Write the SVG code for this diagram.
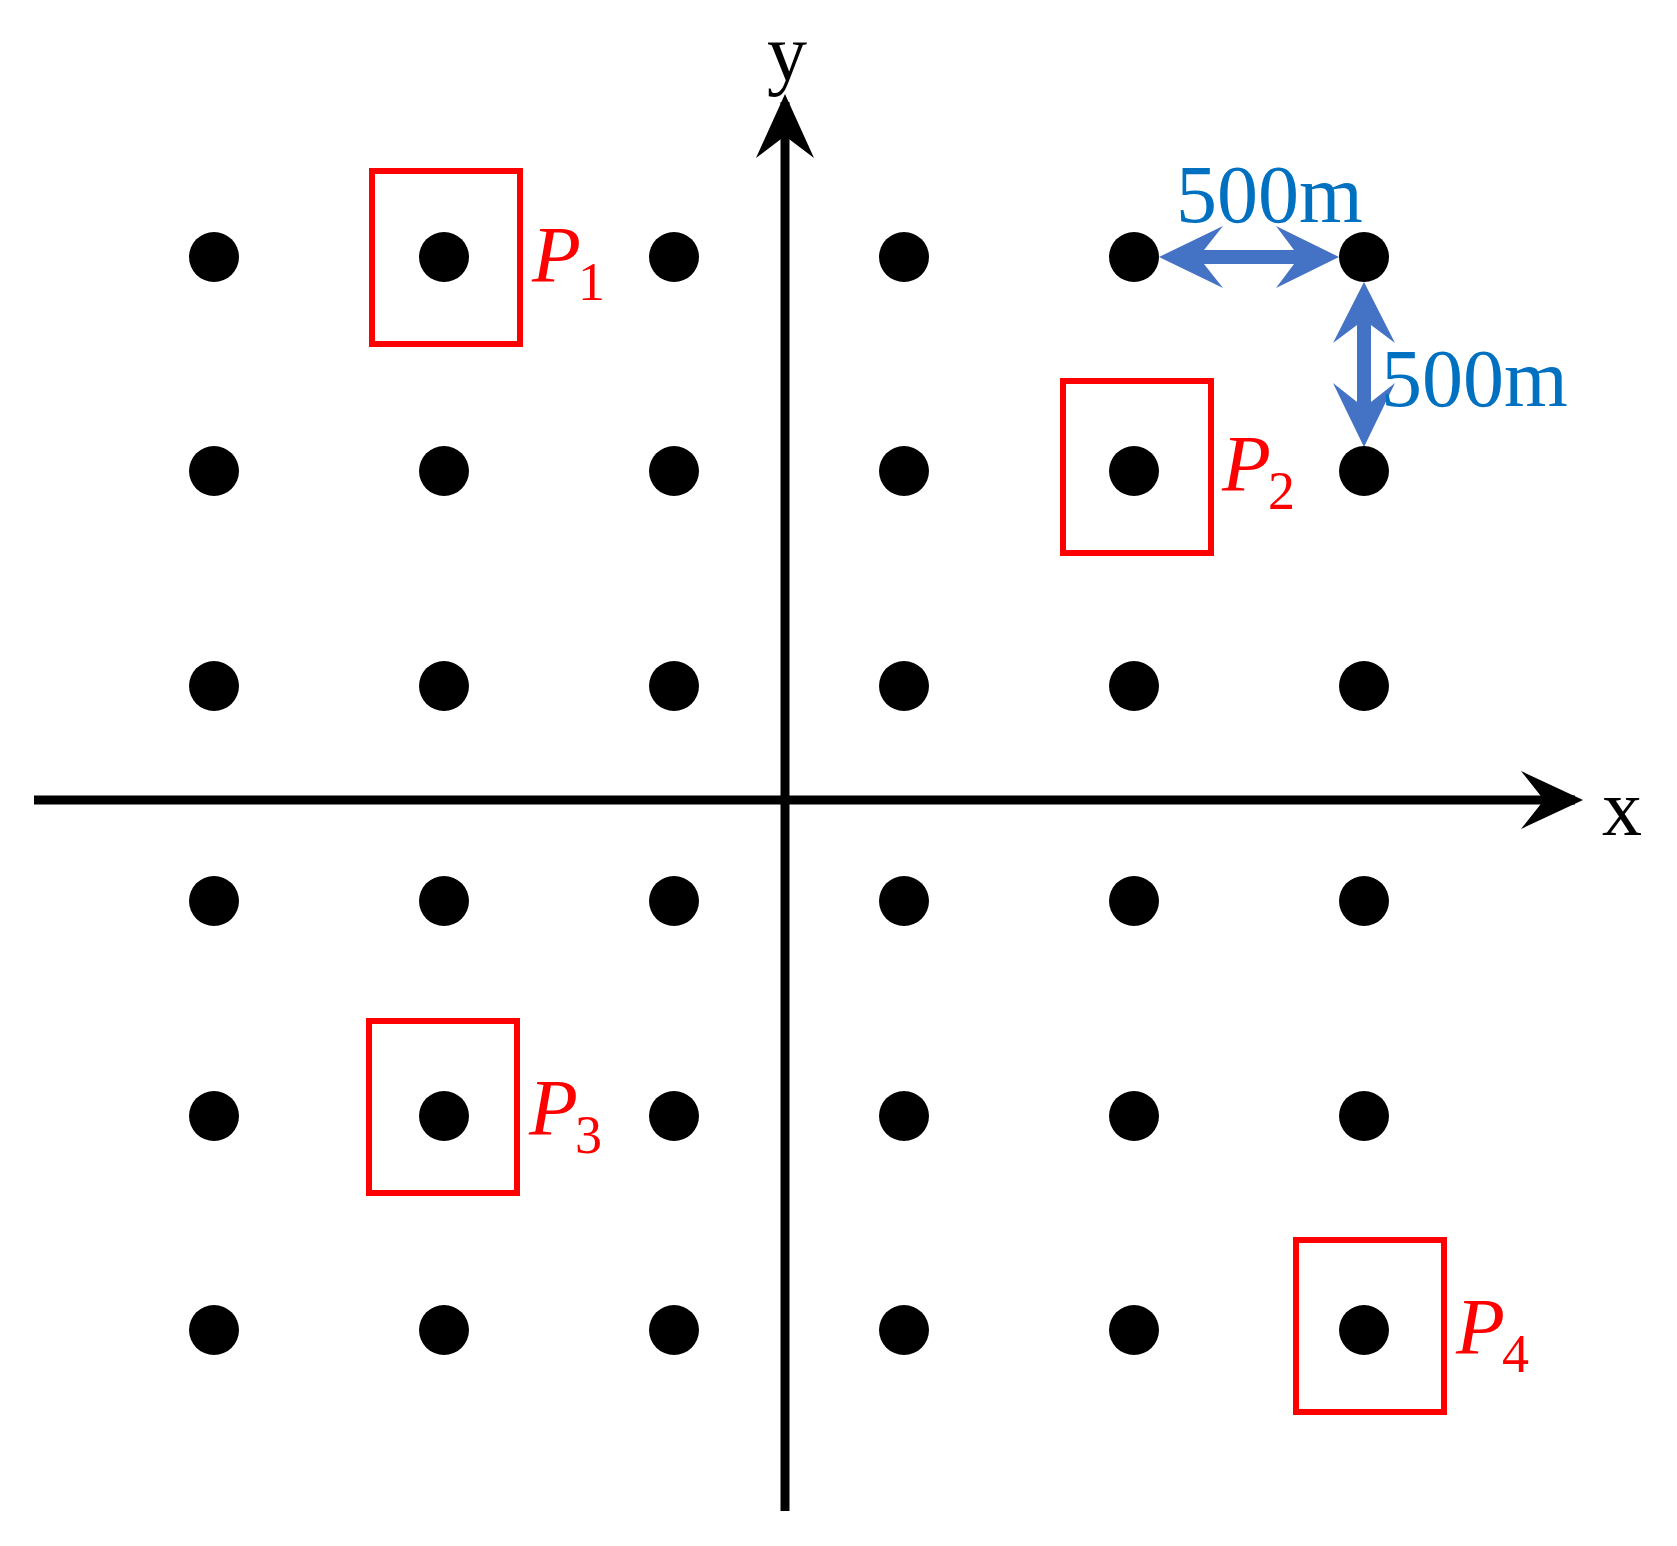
<svg xmlns="http://www.w3.org/2000/svg" width="1677" height="1546" viewBox="0 0 1677 1546">
<style>
.d{fill:#000}
.b{fill:none;stroke:#ff0000;stroke-width:6}
.p{font-family:"Liberation Serif",serif;font-style:italic;fill:#ff0000;font-size:80px}
.s{font-family:"Liberation Serif",serif;fill:#ff0000;font-size:54px}
.m{font-family:"Liberation Serif",serif;fill:#0070C0;font-size:82px}
.ax{font-family:"Liberation Serif",serif;fill:#000;font-size:80px}
</style>
<rect width="1677" height="1546" fill="#fff"/>
<g id="connectors">
<line x1="34" y1="800" x2="1575" y2="800" stroke="#000" stroke-width="9"/>
<polygon points="1583,800 1521,771 1544,800 1521,829" fill="#000"/>
<line x1="785" y1="1511" x2="785" y2="102" stroke="#000" stroke-width="9"/>
<polygon points="785,94 756,158 785,136 814,158" fill="#000"/>
<polygon fill="#4472C4" points="1159,257 1223,226 1204,250 1294,250 1276,226 1339,257 1276,288 1294,264 1204,264 1223,288"/>
<polygon fill="#4472C4" points="1364,282 1395,343 1371,325 1371,402 1395,383 1364,447 1333,383 1357,402 1357,325 1333,343"/>
</g>
<g id="dots">
<circle class="d" cx="214" cy="257" r="25"/><circle class="d" cx="444" cy="257" r="25"/><circle class="d" cx="674" cy="257" r="25"/><circle class="d" cx="904" cy="257" r="25"/><circle class="d" cx="1134" cy="257" r="25"/><circle class="d" cx="1364" cy="257" r="25"/>
<circle class="d" cx="214" cy="471" r="25"/><circle class="d" cx="444" cy="471" r="25"/><circle class="d" cx="674" cy="471" r="25"/><circle class="d" cx="904" cy="471" r="25"/><circle class="d" cx="1134" cy="471" r="25"/><circle class="d" cx="1364" cy="471" r="25"/>
<circle class="d" cx="214" cy="686" r="25"/><circle class="d" cx="444" cy="686" r="25"/><circle class="d" cx="674" cy="686" r="25"/><circle class="d" cx="904" cy="686" r="25"/><circle class="d" cx="1134" cy="686" r="25"/><circle class="d" cx="1364" cy="686" r="25"/>
<circle class="d" cx="214" cy="901" r="25"/><circle class="d" cx="444" cy="901" r="25"/><circle class="d" cx="674" cy="901" r="25"/><circle class="d" cx="904" cy="901" r="25"/><circle class="d" cx="1134" cy="901" r="25"/><circle class="d" cx="1364" cy="901" r="25"/>
<circle class="d" cx="214" cy="1116" r="25"/><circle class="d" cx="444" cy="1116" r="25"/><circle class="d" cx="674" cy="1116" r="25"/><circle class="d" cx="904" cy="1116" r="25"/><circle class="d" cx="1134" cy="1116" r="25"/><circle class="d" cx="1364" cy="1116" r="25"/>
<circle class="d" cx="214" cy="1330" r="25"/><circle class="d" cx="444" cy="1330" r="25"/><circle class="d" cx="674" cy="1330" r="25"/><circle class="d" cx="904" cy="1330" r="25"/><circle class="d" cx="1134" cy="1330" r="25"/><circle class="d" cx="1364" cy="1330" r="25"/>
</g>
<g id="P1"><rect class="b" x="372" y="171" width="148" height="173"/><text class="p" x="532" y="282">P</text><text class="s" x="578" y="300">1</text></g>
<g id="P2"><rect class="b" x="1063" y="381" width="148" height="172"/><text class="p" x="1222" y="491">P</text><text class="s" x="1268" y="509">2</text></g>
<g id="P3"><rect class="b" x="369" y="1021" width="148" height="172"/><text class="p" x="529" y="1135">P</text><text class="s" x="575" y="1153">3</text></g>
<g id="P4"><rect class="b" x="1296" y="1240" width="148" height="172"/><text class="p" x="1456" y="1354">P</text><text class="s" x="1502" y="1372">4</text></g>
<g id="labels">
<text class="m" x="1176" y="222">500m</text>
<text class="m" x="1381" y="406">500m</text>
<text class="ax" x="767" y="80">y</text>
<text class="ax" x="1602" y="835">x</text>
</g>
</svg>
